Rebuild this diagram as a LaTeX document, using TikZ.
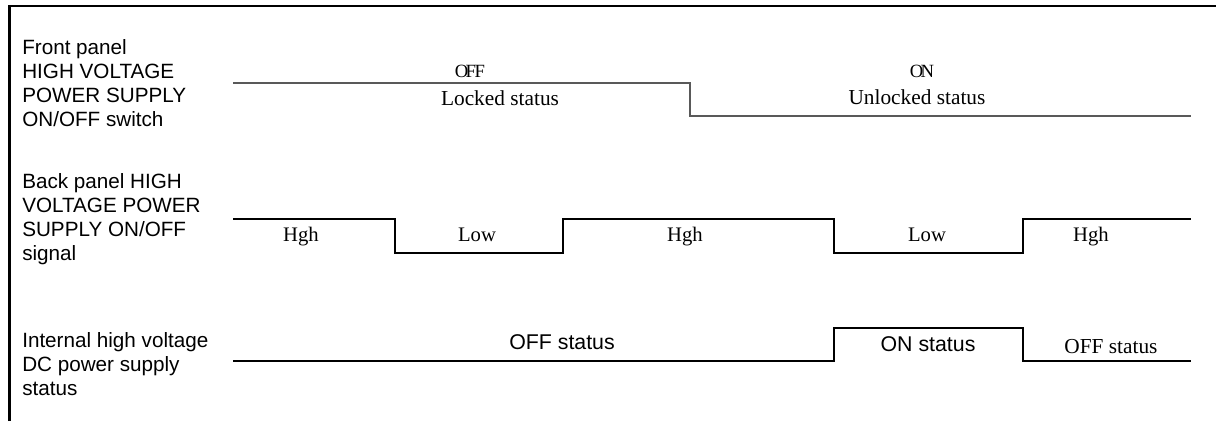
\documentclass[tikz,border=0pt]{standalone}
\usepackage{fontspec}
\setmainfont{Liberation Serif}
\setsansfont{Liberation Sans}
\usetikzlibrary{positioning}

\begin{document}
\begin{tikzpicture}[x=0.75pt,y=-0.75pt,
lbl/.style={font=\sffamily\fontsize{15.5}{18}\selectfont,align=left,anchor=north west,inner sep=0pt},
stat/.style={font=\fontsize{16}{18}\selectfont,anchor=base,inner sep=0pt},
sstat/.style={font=\sffamily\fontsize{16}{18}\selectfont,anchor=base,inner sep=0pt},
lvl/.style={font=\fontsize{15.5}{17}\selectfont,anchor=base,inner sep=0pt},
sw/.style={font=\fontsize{14}{16}\selectfont,anchor=base,inner sep=0pt},
wave/.style={line width=0.8pt}]
\useasboundingbox(0,0)rectangle(1216,421);
\draw[line width=1.6pt](9.5,421)--(9.5,6)--(1216,6);
% front panel switch
\node[lbl](frontlbl)at(22,39){Front panel\\HIGH VOLTAGE\\POWER SUPPLY\\ON/OFF switch};
\draw[wave,black!65](233,83)--(690,83)--(690,116)--(1191,116);
\node[sw](swoff)at(470,77){O\kern-2pt F\kern-1pt F};
\node[stat](locked)at(500,105){Locked status};
\node[sw](swon)at(922,77){O\kern-2pt N};
\node[stat](unlocked)at(917,104){Unlocked status};
% back panel signal
\node[lbl](backlbl)at(22,173){Back panel HIGH\\VOLTAGE POWER\\SUPPLY ON/OFF\\signal};
\draw[wave](233,219)--(395,219)--(395,253)--(563,253)--(563,219)--(834,219)--(834,253)
  --(1023,253)--(1023,219)--(1191,219);
\node[lvl](hgha)at(301,241){Hgh};
\node[lvl](lowa)at(477,241){Low};
\node[lvl](hghb)at(685,241){Hgh};
\node[lvl](lowb)at(927,241){Low};
\node[lvl](hghc)at(1091,241){Hgh};
% internal supply
\node[lbl](intlbl)at(22,332){Internal high voltage\\DC power supply\\status};
\draw[wave](233,361)--(834,361)--(834,328)--(1023,328)--(1023,361)--(1191,361);
\node[sstat](offa)at(562,349){OFF status};
\node[sstat](ona)at(928,351){ON status};
\node[stat](offb)at(1111,353){OFF status};
\end{tikzpicture}
\end{document}
